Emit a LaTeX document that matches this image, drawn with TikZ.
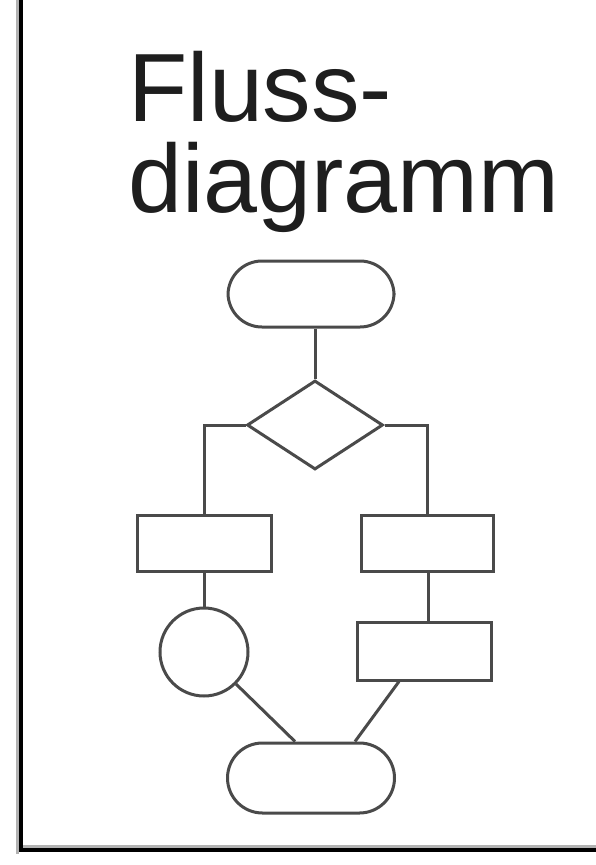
\documentclass[tikz,border=0pt]{standalone}
\usepackage{fontspec}
\setmainfont{Liberation Sans}
\usetikzlibrary{shapes.geometric,calc}
\definecolor{linegray}{HTML}{4A4A4A}
\definecolor{textgray}{HTML}{1E1E1E}
\tikzset{
  shapeline/.style={draw=linegray, line width=3pt},
  stadium/.style={shapeline, rectangle, rounded corners=34pt, minimum width=166pt, minimum height=66pt, inner sep=0pt},
  boxnode/.style={shapeline, rectangle, minimum width=133pt, minimum height=56pt, inner sep=0pt},
  decision/.style={shapeline, diamond, minimum width=136pt, minimum height=89pt, inner sep=0pt, aspect=1.53},
  roundnode/.style={shapeline, circle, minimum size=88pt, inner sep=0pt},
  conn/.style={draw=linegray, line width=3pt},
  titletext/.style={inner sep=0pt, anchor=base west, text=textgray, font=\fontsize{97}{92}\selectfont}
}
\begin{document}
\begin{tikzpicture}[x=1pt,y=-1pt]
\useasboundingbox (0,0) rectangle (596,865);
\fill[white] (0,0) rectangle (596,865);
% frame
\draw[black!30, line width=3pt] (17.5,0) -- (17.5,853.5);
\draw[black!30, line width=3pt] (23,846.5) -- (596,846.5);
\draw[black, line width=4pt] (21,0) -- (21,850) -- (596,850);
% title
\node[titletext] (t1) at (128,121) {Fluss-};
\node[titletext] (t2) at (128,212) {diagramm};
% shapes
\node[stadium] (s1) at (311,294) {};
\node[decision] (d) at (315,425) {};
\node[boxnode, minimum width=134pt] (b1) at (204,543) {};
\node[boxnode, minimum width=132pt] (b2) at (427,543) {};
\node[roundnode] (c) at (204,652) {};
\node[boxnode, minimum width=134pt, minimum height=58pt] (b3) at (424,651) {};
\node[stadium, minimum height=70pt, minimum width=167pt, rounded corners=35pt] (s2) at (311,778) {};
% connectors
\draw[conn] (s1.south -| d.north) -- (d.north);
\draw[conn] (d.west) -| (b1.north);
\draw[conn] (d.east) -| (b2.north);
\draw[conn] (b1.south) -- (c.north);
\draw[conn] ([xshift=1pt]b2.south) -- ([xshift=1pt]b2.south |- b3.north);
\draw[conn] (c.-45) -- ([xshift=-16pt]s2.north);
\draw[conn] ([xshift=-25pt]b3.south) -- ([xshift=44pt]s2.north);
\end{tikzpicture}
\end{document}
